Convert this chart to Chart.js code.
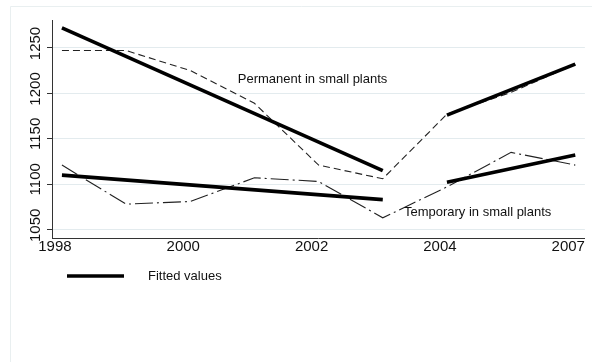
<!DOCTYPE html>
<html>
<head>
<meta charset="utf-8">
<script src="https://cdn.jsdelivr.net/npm/chart.js@4/dist/chart.umd.min.js"></script>
<style>
  html, body { margin: 0; padding: 0; background: #ffffff; }
  canvas { display: block; }
</style>
</head>
<body>
<canvas id="c" width="592" height="362"></canvas>
<script>
// ---- data ----
const periods = [0, 1, 2, 3, 4, 5, 6, 7, 8];
const permanentSmall = [1247, 1247, 1225, 1189, 1121, 1106, 1177, 1201, 1232];
const temporarySmall = [1121, 1078, 1081, 1107, 1103, 1063, 1097, 1135, 1121];

// fitted values: two regression segments each
const fitPeriodsA = [0, 5];
const fitPeriodsB = [6, 8];
const fitPermanentA = [1272, 1115];
const fitPermanentB = [1176, 1232];
const fitTemporaryA = [1110, 1083];
const fitTemporaryB = [1102, 1132];

const xTickPositions = [0, 2, 4, 6, 8];
const xTickLabels = ['1998', '2000', '2002', '2004', '2007'];
const yTickValues = [1050, 1100, 1150, 1200, 1250];

const seriesNotes = [
  { text: 'Permanent in small plants', x: 2.74, y: 1215.5 },
  { text: 'Temporary in small plants', x: 5.33, y: 1069 }
];
const legendText = 'Fitted values';

// ---- helpers ----
const toPts = (xs, ys) => xs.map((x, i) => ({ x: x, y: ys[i] }));
const FONT = '"Liberation Sans", Arial, sans-serif';

const fitStyle = { borderColor: '#000000', borderWidth: 3.6, pointRadius: 0, tension: 0, fill: false };

const notesPlugin = {
  id: 'notes',
  beforeDraw(chart) {
    const ctx = chart.ctx;
    ctx.save();
    ctx.strokeStyle = '#e9eff0';
    ctx.lineWidth = 1;
    ctx.beginPath();
    ctx.moveTo(10.5, 362);
    ctx.lineTo(10.5, 6.5);
    ctx.lineTo(592, 6.5);
    ctx.stroke();
    ctx.restore();
  },
  afterDatasetsDraw(chart) {
    const ctx = chart.ctx;
    const xs = chart.scales.x, ys = chart.scales.y;
    ctx.save();
    ctx.fillStyle = '#111111';
    ctx.font = '13px ' + FONT;
    ctx.textAlign = 'left';
    ctx.textBaseline = 'middle';
    seriesNotes.forEach(n => {
      ctx.fillText(n.text, xs.getPixelForValue(n.x), ys.getPixelForValue(n.y));
    });
    // legend entry, styled from the fitted dataset
    const ds = chart.data.datasets[0];
    ctx.strokeStyle = ds.borderColor;
    ctx.lineWidth = ds.borderWidth;
    ctx.beginPath();
    ctx.moveTo(67, 276);
    ctx.lineTo(124, 276);
    ctx.stroke();
    ctx.fillText(ds.label, 148, 276);
    ctx.restore();
  }
};

new Chart(document.getElementById('c'), {
  type: 'line',
  data: {
    datasets: [
      Object.assign({ label: legendText, data: toPts(fitPeriodsA, fitPermanentA) }, fitStyle),
      Object.assign({ label: legendText, data: toPts(fitPeriodsB, fitPermanentB) }, fitStyle),
      Object.assign({ label: legendText, data: toPts(fitPeriodsA, fitTemporaryA) }, fitStyle),
      Object.assign({ label: legendText, data: toPts(fitPeriodsB, fitTemporaryB) }, fitStyle),
      {
        label: 'Permanent in small plants',
        data: toPts(periods, permanentSmall),
        borderColor: '#222222', borderWidth: 1.1, borderDash: [7, 4],
        pointRadius: 0, tension: 0, fill: false
      },
      {
        label: 'Temporary in small plants',
        data: toPts(periods, temporarySmall),
        borderColor: '#222222', borderWidth: 1.1, borderDash: [18, 4, 2, 4],
        pointRadius: 0, tension: 0, fill: false
      }
    ]
  },
  options: {
    responsive: false,
    devicePixelRatio: 1,
    animation: false,
    layout: { padding: { left: 0, top: 18, right: 3, bottom: 0 } },
    plugins: { legend: { display: false }, tooltip: { enabled: false } },
    scales: {
      x: {
        type: 'linear',
        min: -0.155,
        max: 8.15,
        afterBuildTicks: s => { s.ticks = xTickPositions.map(v => ({ value: v })); },
        afterFit: s => { s.height = 124; },
        grid: { display: false, drawTicks: false },
        border: { display: true, color: '#333333', width: 1 },
        ticks: {
          padding: 0,
          labelOffset: -7,
          maxRotation: 0,
          autoSkip: false,
          color: '#111111',
          font: { family: FONT, size: 15 },
          callback: v => { const i = xTickPositions.indexOf(v); return i >= 0 ? xTickLabels[i] : ''; }
        }
      },
      y: {
        type: 'linear',
        min: 1040.8,
        max: 1280.6,
        afterBuildTicks: s => { s.ticks = yTickValues.map(v => ({ value: v })); },
        afterFit: s => { s.width = 52; },
        grid: { display: true, color: '#e3ebee', lineWidth: 1, drawTicks: true, tickLength: 5, tickColor: '#333333' },
        border: { display: true, color: '#333333', width: 1 },
        ticks: {
          padding: 11,
          minRotation: 90,
          maxRotation: 90,
          labelOffset: -21,
          autoSkip: false,
          color: '#111111',
          font: { family: FONT, size: 15 },
          callback: v => String(v)
        }
      }
    }
  },
  plugins: [notesPlugin]
});
</script>
</body>
</html>
